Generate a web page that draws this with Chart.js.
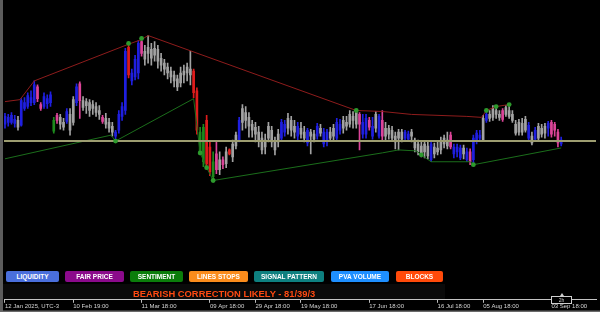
<!DOCTYPE html>
<html>
<head>
<meta charset="utf-8">
<script src="https://cdn.jsdelivr.net/npm/chart.js@4.4.1/dist/chart.umd.min.js"></script>
<style>
  body { margin: 0; background: #000; overflow: hidden; }
  #wrap { position: relative; width: 600px; height: 312px; }
  #chart { position: absolute; left: 0; top: 0; }
  .btn { position: absolute; top: 271px; height: 11px; border-radius: 2px; color: #fff;
         font: bold 6.5px 'Liberation Sans', Arial, sans-serif; line-height: 11px; text-align: center; white-space: nowrap; }
  #signal { position: absolute; left: 133px; top: 288px; color: #ff4a12; line-height: 10px;
            font: bold 9.4px 'Liberation Sans', Arial, sans-serif; white-space: nowrap; }
  #shift { position: absolute; left: 551px; top: 296px; width: 19px; height: 6px; border: 1px solid #cfcfcf;
           background: #000; color: #cfcfcf; font: 5px 'Liberation Sans', Arial, sans-serif; line-height: 6px; text-align: center; }
  #shift:before { content: ''; position: absolute; left: 8px; top: -4px; border-left: 2px solid transparent;
                  border-right: 2px solid transparent; border-bottom: 3px solid #cfcfcf; }
</style>
</head>
<body>
<div id="wrap">
  <canvas id="chart" width="600" height="312"></canvas>
  <div id="buttons"></div>
  <div id="signal">BEARISH CORRECTION LIKELY - 81/39/3</div>
  <div id="shift">2h</div>
</div>
<script>
// daily candles, 12 Jan 2025 .. 09 Sep 2025 (price in chart points)
var opens = [178,185,180,183,182,177,200,196,205,200, 216,198,196,204,200,182,187,185,180,181,
  188,180,200,219,202,197,200,194,196,192, 185,184,180,176,170,172,186,192,256,222,
  226,230,262,244,250,254,248,254,245,240, 236,232,228,224,220,228,230,234,232,212,
  170,175,182,155,140,132,142,137,138,152, 145,156,162,180,190,185,178,175,170,164,
  155,164,172,160,160,164,170,174,182,176, 166,174,170,172,166,168,166,174,170,160,
  170,166,164,178,174,180,178,186,178,188, 180,168,182,176,174,186,182,174,168,172,
  166,164,170,164,168,166,162,158,156,150, 156,158,148,154,152,158,162,167,155,150,
  154,148,150,150,142,162,167,162,182,188, 185,192,188,192,188,192,188,178,170,179,
  172,177,166,163,164,174,169,174,180,178, 170,162];
var closes = [186,180,187,179,175,202,194,207,200,218, 204,194,206,199,208,171,182,178,175,191,
  172,203,216,202,195,201,192,198,190,188, 181,178,174,170,166,188,196,252,228,230,
  244,260,250,252,256,245,255,242,238,234, 230,226,222,216,230,232,236,228,210,172,
  150,140,138,130,125,148,132,142,150,148, 158,167,182,194,182,176,172,168,162,152,
  162,176,160,152,168,180,178,184,172,170, 176,168,164,159,170,163,176,169,158,170,
  164,174,180,172,182,176,188,182,190,178, 168,184,175,166,188,166,166,166,174,164,
  160,170,163,170,163,170,154,150,148,158, 146,142,155,150,160,164,156,155,148,155,
  144,154,142,140,164,169,164,184,188,184, 194,188,185,183,195,186,182,169,180,170,
  183,164,159,172,176,168,176,179,168,172, 159,158];
var highs = [189,188,190,187,186,204,205,210,212,222, 218,200,210,208,211,185,189,188,184,194,
  194,206,219,221,206,204,203,202,200,197, 187,189,184,180,172,192,200,255,259,234,
  248,263,264,258,268,260,262,258,250,244, 240,236,232,228,236,238,240,252,234,215,
  175,178,187,160,150,160,150,145,155,153, 162,170,185,198,196,190,182,180,176,170,
  168,180,176,165,173,183,182,189,186,182, 180,180,176,174,173,172,179,178,174,173,
  175,178,184,183,186,186,192,191,192,190, 188,188,185,185,191,188,192,180,177,176,
  170,173,173,172,171,173,164,162,160,161, 160,161,159,160,165,167,170,170,158,158,
  157,157,154,153,167,172,172,187,192,192, 197,196,192,194,197,198,192,182,183,184,
  186,180,170,175,179,178,179,181,182,180, 173,165];
var lows = [174,176,178,175,172,176,192,194,197,198, 201,192,194,194,196,169,179,173,172,179,
  167,177,197,184,192,189,186,188,186,183, 179,174,170,166,161,169,182,188,225,218,
  223,224,247,238,240,238,242,235,232,228, 224,220,216,212,216,220,222,218,205,168,
  147,135,133,126,121,128,127,133,134,147, 140,153,160,172,174,165,165,160,155,148,
  148,160,155,147,155,161,166,168,166,164, 161,164,160,156,148,160,163,166,155,156,
  161,162,161,168,169,172,175,174,174,152, 164,164,172,163,170,164,162,162,163,161,
  153,152,160,161,161,160,150,147,145,144, 143,140,144,147,148,154,153,153,144,145,
  142,143,140,137,137,158,161,161,180,181, 182,184,182,181,186,184,180,167,167,167,
  170,162,157,161,161,165,164,166,165,166, 155,156];
// indicator state of each candle: b blue, g grey, r red, p pink, n green
var candleState = 'bbbbgbbbbb' + 'ppbbbnpggb' + 'ggbpgggggg' + 'pgggbbbbrb' + 'bbpggggggg' +
  'ggggggggrr' + 'nnrrnpgpgr' + 'ggbggggggg' + 'gggggbbggg' + 'bggbggbgbb' + 'ggbbgggggp' +
  'bbpbgbpggg' + 'gggbbggggg' + 'gbgggggpbb' + 'bgbpbbbgbg' + 'gggpgggggg' + 'gbgbgggbpp' + 'pb';

// zigzag lines [bar index, price]
var upperLine = [[0,201],[4.6,203],[9,222],[37.8,259],[42,264],[44,268],[108,192],[116,191],
  [125,188],[142,186],[146.5,185],[148,192],[151,196],[155,198]];
var lowerLine = [[0,143],[32.6,167],[34,161],[58,204],[60,149],[62,134],[64,121],[116,149],
  [121,152],[126.5,151],[128,147],[131,140],[143,140],[144,137],[171,154]];
var pivots = [[34,161],[38,260],[42,265],[60,149],[62,134],[64,121],[108,192],[128,147],
  [144,137],[148,192],[151,196],[155,198]];
var levelPrice = 161;

var tickIdx = [0, 21, 42, 63, 77, 91, 112, 133, 147, 168];
var tickLabels = ['12 Jan 2025, UTC-3', '10 Feb 19:00', '11 Mar 18:00', '09 Apr 18:00', '29 Apr 18:00',
  '19 May 18:00', '17 Jun 18:00', '16 Jul 18:00', '05 Aug 18:00', '03 Sep 18:00'];

var buttonNames = ['LIQUIDITY', 'FAIR PRICE', 'SENTIMENT', 'LINES STOPS', 'SIGNAL PATTERN', 'PVA VOLUME', 'BLOCKS'];
var buttonColors = ['#4a6fdc', '#8b0a8b', '#0b7d0b', '#fb8c1c', '#0e8080', '#1e8fff', '#ff4a0a'];
var buttonLeft = [6, 65, 130, 189, 254, 331, 396];
var buttonWidth = [53, 59, 53, 59, 70, 58, 47];

var palette = { b: '#1f1fe0', g: '#a2a2a2', r: '#de1c1c', p: '#dc4498', n: '#1d8a1d' };

var box = document.getElementById('buttons');
buttonNames.forEach(function(name, i) {
  var d = document.createElement('div');
  d.className = 'btn';
  d.textContent = name;
  d.style.left = buttonLeft[i] + 'px';
  d.style.width = buttonWidth[i] + 'px';
  d.style.background = buttonColors[i];
  box.appendChild(d);
});

var colors = candleState.split('').map(function(k) { return palette[k]; });
var wicks = opens.map(function(o, i) { return { x: i, y: [lows[i], highs[i]] }; });
var bodies = opens.map(function(o, i) { return { x: i, y: [o, closes[i]] }; });
function pts(arr) { return arr.map(function(p) { return { x: p[0], y: p[1] }; }); }

// black backdrop, window frame and signal panel
var backdrop = {
  id: 'backdrop',
  beforeDraw: function(chart) {
    var c = chart.ctx;
    c.save();
    c.fillStyle = '#000';
    c.fillRect(0, 0, chart.width, chart.height);
    c.fillStyle = '#0a0a0a';
    c.fillRect(3, 284, 442, 15);
    c.fillStyle = '#5c5c5c';
    c.fillRect(0, 0, 3, chart.height);
    c.fillStyle = '#6a6a6a';
    c.fillRect(0, chart.height - 1.5, chart.width, 1.5);
    c.restore();
  }
};

new Chart(document.getElementById('chart'), {
  type: 'bar',
  data: {
    datasets: [
      { type: 'scatter', data: pts(pivots), pointRadius: 2.4, pointBackgroundColor: '#2d9a2d',
        pointBorderWidth: 0, order: 0 },
      { type: 'line', data: [{ x: -1, y: levelPrice }, { x: 190, y: levelPrice }], borderColor: '#9d9d70',
        borderWidth: 2, pointRadius: 0, order: 1 },
      { type: 'line', data: pts(upperLine), borderColor: '#8e1c1c', borderWidth: 1, pointRadius: 0, order: 1 },
      { type: 'line', data: pts(lowerLine), borderColor: '#1b6e1b', borderWidth: 1, pointRadius: 0, order: 1 },
      { data: bodies, backgroundColor: colors, barThickness: 2, minBarLength: 1, grouped: false, order: 2 },
      { data: wicks, backgroundColor: colors, barThickness: 1, grouped: false, order: 3 }
    ]
  },
  options: {
    responsive: false,
    animation: false,
    devicePixelRatio: 1,
    layout: { padding: { left: 3, right: 0, top: 0, bottom: 2 } },
    plugins: { legend: { display: false }, tooltip: { enabled: false } },
    scales: {
      x: {
        type: 'linear', min: -0.3, max: 181.7, offset: false,
        afterBuildTicks: function(axis) { axis.ticks = tickIdx.map(function(v) { return { value: v }; }); },
        ticks: {
          autoSkip: false, maxRotation: 0, align: 'start', padding: 0, color: '#d4d4d4',
          font: { family: 'Liberation Sans', size: 6 },
          callback: function(v, i) { return tickLabels[i]; }
        },
        grid: { drawOnChartArea: false, drawTicks: true, tickLength: 3, color: '#bdbdbd', offset: false },
        border: { color: '#c4c4c4', width: 1 }
      },
      y: { display: false, min: 0, max: 300 }
    }
  },
  plugins: [backdrop]
});
</script>
</body>
</html>
